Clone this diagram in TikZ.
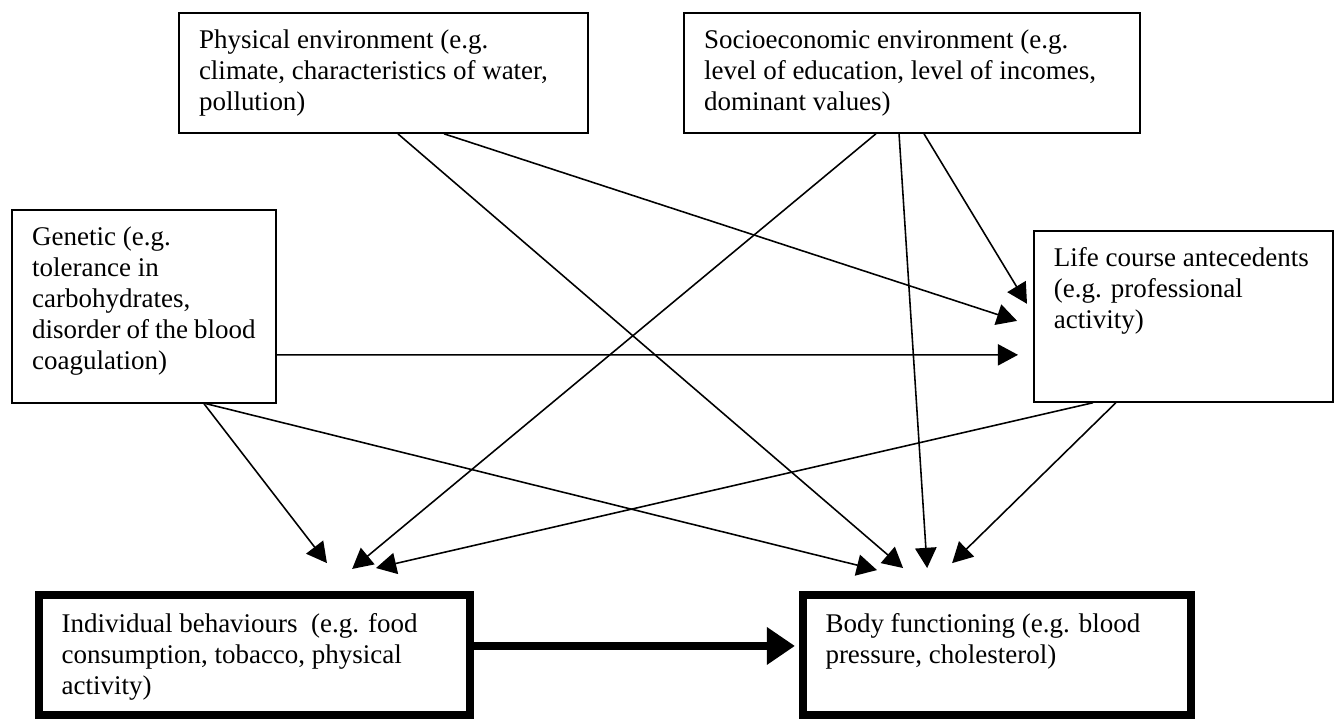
\documentclass[tikz,border=0pt]{standalone}
\usepackage{fontspec}
\setmainfont{Liberation Serif}
\usetikzlibrary{arrows.meta}
\newcommand{\boxtext}[3]{\parbox[c][#2][t]{#1}{\raggedright\strut #3}}

\begin{document}
\begin{tikzpicture}[x=1pt, y=-1pt,
        factor/.style={draw, line width=0.8pt, inner xsep=9pt, inner ysep=6pt, anchor=north west, font=\fontsize{12}{13.8}\selectfont},
        outcome/.style={factor, line width=3.6pt, inner xsep=10pt, inner ysep=7pt},
        link/.style={-{Triangle[length=9pt, width=9.5pt]}, line width=0.7pt},
        mainlink/.style={-{Triangle[length=12.5pt, width=16pt]}, line width=3.6pt}]

        \useasboundingbox (0,0) rectangle (595,319.3);

        % Factors
        \node[factor] (phys) at (79.1,5.3) {\boxtext{163.9pt}{41.4pt}{Physical environment (e.g.\\climate, characteristics of water,\\pollution)}};
        \node[factor] (socio) at (303.7,5.3) {\boxtext{184.7pt}{41.4pt}{Socioeconomic environment (e.g.\\level of education, level of incomes,\\dominant values)}};
        \node[factor] (gen) at (4.9,92.9) {\boxtext{99.4pt}{73.8pt}{Genetic (e.g.\\tolerance in\\carbohydrates,\\disorder of the blood\\coagulation)}};
        \node[factor] (life) at (459.3,102.3) {\boxtext{115pt}{64pt}{Life course antecedents\\(e.g. professional\\activity)}};

        % Outcomes
        \node[outcome] (indiv) at (15.6,262.8) {\boxtext{171.6pt}{39.3pt}{Individual behaviours\ \ (e.g. food\\consumption, tobacco, physical\\activity)}};
        \node[outcome] (body) at (355.3,262.8) {\boxtext{152.5pt}{39.3pt}{Body functioning (e.g. blood\\pressure, cholesterol)}};

        % Links
        \draw[link] ([xshift=6.5pt]phys.south) -- ([xshift=-41.75pt, yshift=10.2pt]body.north);
        \draw[link] ([xshift=27pt]phys.south) -- ([xshift=-7pt, yshift=-2pt]life.west);
        \draw[link] ([xshift=-15.95pt]socio.south) -- ([xshift=43.4pt, yshift=9.8pt]indiv.north);
        \draw[link] ([xshift=-5.65pt]socio.south) -- ([xshift=-31.05pt, yshift=10.2pt]body.north);
        \draw[link] ([xshift=5.45pt]socio.south) -- ([xshift=-2.6pt, yshift=5.6pt]life.west);
        \draw[link] ([yshift=-21.6pt]gen.east) -- ([xshift=-6.6pt, yshift=-17.1pt]life.west);
        \draw[link] ([xshift=26.7pt]gen.south) -- ([xshift=32.2pt, yshift=12.4pt]indiv.north);
        \draw[link] ([xshift=27.6pt]gen.south) -- ([xshift=-53.35pt, yshift=9.3pt]body.north);
        \draw[link] ([xshift=-40.2pt]life.south) -- ([xshift=54pt, yshift=10.2pt]indiv.north);
        \draw[link] ([xshift=-30pt]life.south) -- ([xshift=-19.95pt, yshift=12.4pt]body.north);
        \draw[mainlink] ([yshift=4pt]indiv.east) -- ([xshift=-1.8pt, yshift=4pt]body.west);
    \end{tikzpicture}
\end{document}
